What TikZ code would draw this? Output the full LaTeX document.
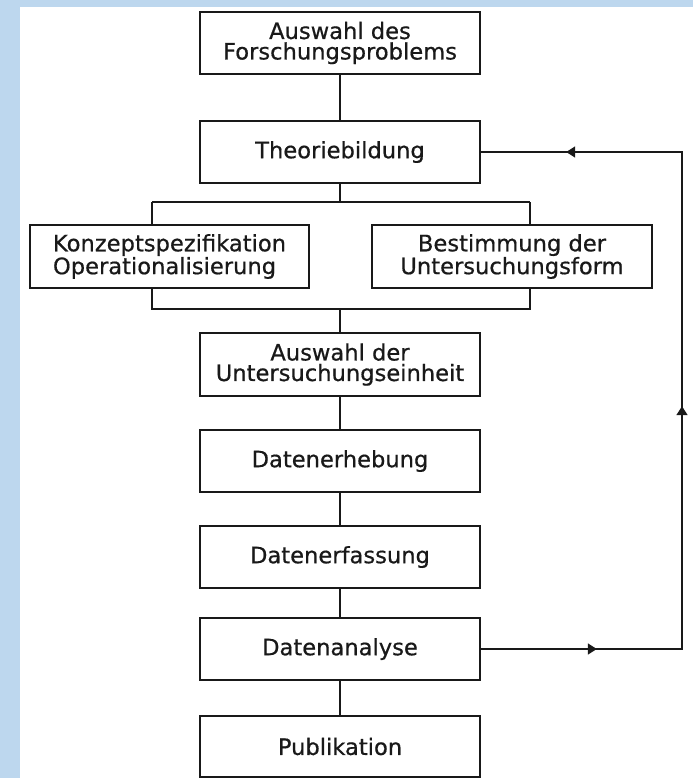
\documentclass[tikz,border=0pt]{standalone}
\usepackage{fontspec}
\setmainfont{DejaVu Sans}[FakeBold=0.6]
\usetikzlibrary{arrows.meta,decorations.markings}
\definecolor{bgblue}{RGB}{189,215,238}
\definecolor{ink}{RGB}{25,25,25}
\tikzset{
  stepbox/.style={draw=ink, line width=1.6pt, minimum width=280pt, minimum height=62pt,
    inner sep=0pt, align=center, text=ink, font=\fontsize{22.6}{20.5}\selectfont},
  conn/.style={draw=ink, line width=1.6pt},
}
\begin{document}
\begin{tikzpicture}[x=1pt,y=-1pt]
\useasboundingbox (0,0) rectangle (693,778);
\fill[bgblue] (0,0) rectangle (693,778);
\fill[white] (20,7) rectangle (693,778);

\node[stepbox] (FP) at (340,43) {Auswahl des\\Forschungsproblems};
\node[stepbox] (TB) at (340,152) {Theoriebildung};
\node[stepbox, minimum width=279pt, minimum height=63pt, align=left] (KO) at (169.5,256.5) {Konzeptspezifikation\\Operationalisierung};
\node[stepbox, minimum height=63pt] (BU) at (512,256.5) {Bestimmung der\\Untersuchungsform};
\node[stepbox, minimum height=63pt] (AU) at (340,364.5) {Auswahl der\\Untersuchungseinheit};
\node[stepbox] (DE) at (340,461) {Datenerhebung};
\node[stepbox] (DF) at (340,557) {Datenerfassung};
\node[stepbox] (DA) at (340,649) {Datenanalyse};
\node[stepbox, minimum height=61pt] (PU) at (340,746.5) {Publikation};

\coordinate (tc) at (340,202);
\coordinate (tl) at (152,202);
\coordinate (tr) at (530,202);
\coordinate (bc) at (340,309);
\coordinate (bl) at (152,309);
\coordinate (br) at (530,309);
\coordinate (rb) at (682,649);
\coordinate (rt) at (682,152);

\draw[conn] (FP) -- (TB);
\draw[conn] (TB) -- (tc);
\draw[conn] (tl) -- (tr);
\draw[conn] (tl) -- (tl |- KO.north);
\draw[conn] (tr) -- (tr |- BU.north);
\draw[conn] (bl |- KO.south) -- (bl) -- (br) -- (br |- BU.south);
\draw[conn] (bc) -- (AU);
\draw[conn] (AU) -- (DE);
\draw[conn] (DE) -- (DF);
\draw[conn] (DF) -- (DA);
\draw[conn] (DA) -- (PU);

\draw[conn, decoration={markings,
    mark=at position 116pt with {\arrow{Triangle[length=9pt,width=11pt]}},
    mark=at position 444pt with {\arrow{Triangle[length=9pt,width=11pt]}},
    mark=at position 814pt with {\arrow{Triangle[length=9pt,width=11pt]}}},
  postaction={decorate}]
  (DA.east) -- (rb) -- (rt) -- (TB.east);
\end{tikzpicture}
\end{document}
